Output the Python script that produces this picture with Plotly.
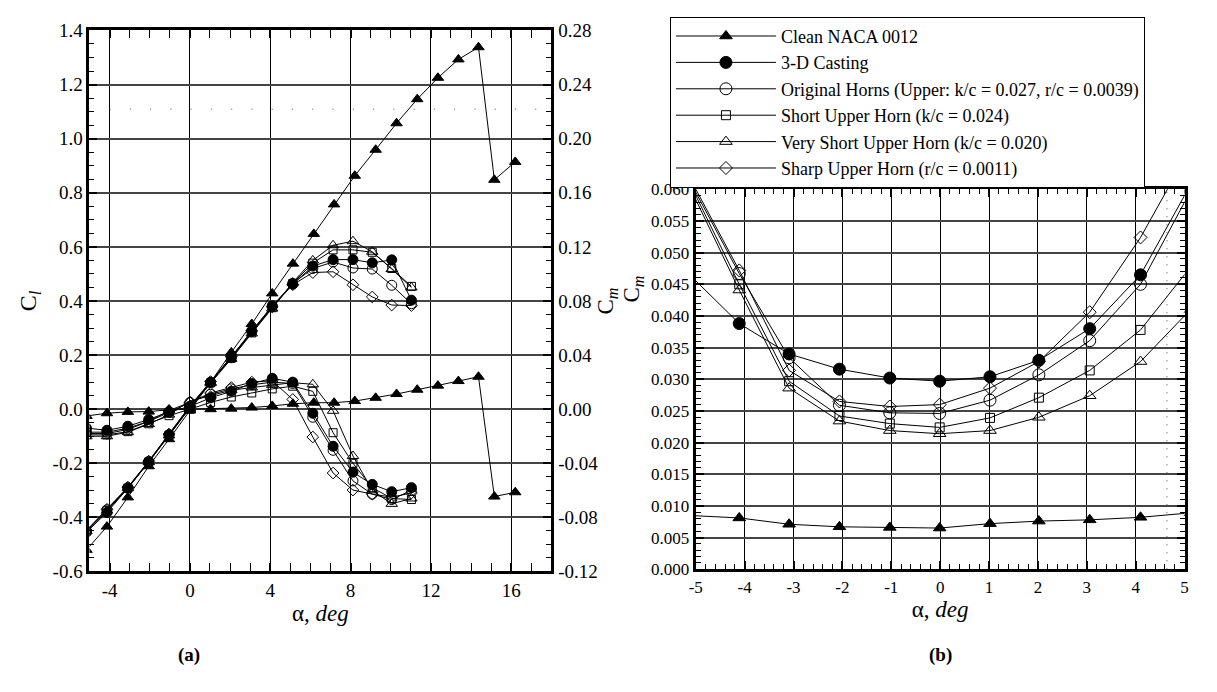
import plotly.graph_objects as go

FONT = "Liberation Serif"

# ---------------- Panel (a): Cl (left axis) and Cm (right axis) vs alpha ----------------
alpha_clean = [-5.15, -4.13, -3.09, -2.05, -1.04, 0.0, 1.03, 2.06, 3.08, 4.10, 5.13, 6.17,
               7.18, 8.21, 9.25, 10.29, 11.32, 12.35, 13.37, 14.37, 15.16, 16.20]
cl_clean = [-0.52, -0.434, -0.326, -0.211, -0.111, -0.005, 0.100, 0.210, 0.315, 0.428, 0.538,
            0.648, 0.757, 0.863, 0.959, 1.057, 1.146, 1.225, 1.293, 1.338, 0.848, 0.914]
cm_clean = [-0.005, -0.003, -0.002, -0.0018, -0.0004, 0.0, 0.0, 0.0004, 0.0012, 0.0024, 0.004,
            0.0048, 0.0048, 0.006, 0.0084, 0.0112, 0.0144, 0.0174, 0.0208, 0.024, -0.0646, -0.0614]

alpha_iced = [-5.15, -4.13, -3.09, -2.05, -1.04, 0.0, 1.03, 2.06, 3.08, 4.10, 5.12, 6.12,
              7.13, 8.12, 9.08, 10.05, 11.03]
cl_casting = [-0.455, -0.382, -0.292, -0.195, -0.095, 0.008, 0.099, 0.19, 0.287, 0.382, 0.462,
              0.529, 0.553, 0.553, 0.541, 0.552, 0.403]
cl_orig = [-0.45, -0.372, -0.29, -0.193, -0.094, 0.01, 0.10, 0.192, 0.29, 0.38, 0.465,
           0.52, 0.544, 0.522, 0.518, 0.458, 0.39]
cl_short = [-0.45, -0.375, -0.292, -0.195, -0.096, 0.005, 0.097, 0.188, 0.282, 0.375, 0.465,
            0.54, 0.589, 0.589, 0.58, 0.52, 0.454]
cl_vshort = [-0.45, -0.375, -0.292, -0.196, -0.097, 0.004, 0.096, 0.186, 0.28, 0.372, 0.468,
             0.55, 0.606, 0.621, 0.582, 0.518, 0.45]
cl_sharp = [-0.448, -0.37, -0.288, -0.192, -0.092, 0.012, 0.102, 0.195, 0.29, 0.378, 0.46,
            0.505, 0.508, 0.46, 0.415, 0.385, 0.383]

cm_casting = [-0.014, -0.0156, -0.0126, -0.0076, -0.002, 0.002, 0.0084, 0.0132, 0.019, 0.0228,
              0.020, -0.003, -0.0274, -0.0466, -0.0556, -0.061, -0.058]
cm_orig = [-0.017, -0.017, -0.014, -0.009, -0.0024, 0.005, 0.011, 0.015, 0.018, 0.020, 0.019,
           -0.006, -0.0304, -0.053, -0.0628, -0.0668, -0.060]
cm_short = [-0.019, -0.019, -0.0166, -0.0108, -0.0048, 0.0, 0.005, 0.009, 0.012, 0.015, 0.017,
            0.0132, -0.0174, -0.040, -0.058, -0.066, -0.0668]
cm_vshort = [-0.020, -0.020, -0.017, -0.011, -0.004, 0.006, 0.010, 0.014, 0.016, 0.018, 0.0196,
             0.0184, -0.0012, -0.0346, -0.060, -0.070, -0.066]
cm_sharp = [-0.018, -0.018, -0.015, -0.009, -0.001, 0.005, 0.012, 0.016, 0.020, 0.021, 0.0072,
            -0.0206, -0.0472, -0.0598, -0.0628, -0.065, -0.062]

# ---------------- Panel (b): zoomed view, -5..5 deg ----------------
alpha_b = [-5.15, -4.11, -3.09, -2.06, -1.03, -0.01, 1.02, 2.02, 3.06, 4.10, 5.12]
b_clean = [0.0085, 0.0081, 0.0071, 0.0067, 0.0066, 0.0065, 0.0072, 0.0076, 0.0078, 0.0082, 0.0089]
b_casting = [0.0467, 0.0388, 0.0340, 0.0316, 0.0302, 0.0297, 0.0304, 0.0330, 0.0380, 0.0465, 0.0607]
b_orig = [0.0617, 0.0467, 0.0334, 0.0259, 0.0247, 0.0246, 0.0267, 0.0307, 0.0361, 0.0450, 0.0597]
b_short = [0.0614, 0.0450, 0.0297, 0.0242, 0.0230, 0.0224, 0.0239, 0.0271, 0.0314, 0.0378, 0.0477]
b_vshort = [0.0608, 0.0441, 0.0286, 0.0234, 0.0219, 0.0214, 0.0219, 0.0240, 0.0274, 0.0328, 0.0410]
b_sharp = [0.0622, 0.0472, 0.0314, 0.0265, 0.0257, 0.0260, 0.0286, 0.0328, 0.0406, 0.0524, 0.0665]

series_names = [
    "Clean NACA 0012",
    "3-D Casting",
    "Original Horns (Upper: k/c = 0.027, r/c = 0.0039)",
    "Short Upper Horn (k/c = 0.024)",
    "Very Short Upper Horn (k/c = 0.020)",
    "Sharp Upper Horn (r/c = 0.0011)",
]
symbols = ["triangle-up", "circle", "circle-open", "square-open", "triangle-up-open", "diamond-open"]
sizes_a = [10, 10, 10, 8, 10, 9]
sizes_b = [11, 12, 12, 9, 11, 10]

# tick values / labels
xa_ticks = [-4, 0, 4, 8, 12, 16]
ya_ticks = [-0.6, -0.4, -0.2, 0.0, 0.2, 0.4, 0.6, 0.8, 1.0, 1.2, 1.4]
y2a_ticks = [-0.12, -0.08, -0.04, 0.0, 0.04, 0.08, 0.12, 0.16, 0.20, 0.24, 0.28]
xb_ticks = [-5, -4, -3, -2, -1, 0, 1, 2, 3, 4, 5]
yb_ticks = [0.0, 0.005, 0.010, 0.015, 0.020, 0.025, 0.030, 0.035, 0.040, 0.045, 0.050, 0.055, 0.060]


def fmt(v, d):
    s = f"{v:.{d}f}"
    if s.startswith("-") and float(s) == 0:
        s = s[1:]
    return s


fig = go.Figure()

cl_sets = [(alpha_clean, cl_clean), (alpha_iced, cl_casting), (alpha_iced, cl_orig),
           (alpha_iced, cl_short), (alpha_iced, cl_vshort), (alpha_iced, cl_sharp)]
cm_sets = [(alpha_clean, cm_clean), (alpha_iced, cm_casting), (alpha_iced, cm_orig),
           (alpha_iced, cm_short), (alpha_iced, cm_vshort), (alpha_iced, cm_sharp)]
b_sets = [b_clean, b_casting, b_orig, b_short, b_vshort, b_sharp]


def mk(i, size):
    return dict(symbol=symbols[i], size=size, color="black", line=dict(color="black", width=1))


for i, (a, v) in enumerate(cl_sets):
    fig.add_trace(go.Scatter(x=a, y=v, mode="lines+markers", name=series_names[i],
                             showlegend=False, line=dict(color="black", width=1),
                             marker=mk(i, sizes_a[i]), xaxis="x", yaxis="y"))
for i, (a, v) in enumerate(cm_sets):
    fig.add_trace(go.Scatter(x=a, y=v, mode="lines+markers", name=series_names[i],
                             showlegend=False, line=dict(color="black", width=1),
                             marker=mk(i, sizes_a[i]), xaxis="x", yaxis="y2"))
for i, v in enumerate(b_sets):
    fig.add_trace(go.Scatter(x=alpha_b, y=v, mode="lines+markers", name=series_names[i],
                             showlegend=True, line=dict(color="black", width=1),
                             marker=mk(i, sizes_b[i]), xaxis="x3", yaxis="y3"))

tickfont_a = dict(family=FONT, size=19, color="black")
tickfont_b = dict(family=FONT, size=17, color="black")
common = dict(showline=True, linecolor="black", zeroline=False, ticks="inside",
              tickcolor="black")

fig.update_layout(
    width=1217, height=692,
    margin=dict(l=0, r=0, t=0, b=0),
    paper_bgcolor="white", plot_bgcolor="white",
    font=dict(family=FONT, color="black"),
    xaxis=dict(domain=[0.0684, 0.4514], range=[-5, 18], anchor="y",
               tickvals=xa_ticks, ticktext=[fmt(v, 0) for v in xa_ticks],
               showgrid=True, gridcolor="black", gridwidth=1,
               ticklen=8, tickwidth=2, linewidth=3, mirror="allticks",
               minor=dict(dtick=1, ticks="inside", ticklen=5, tickcolor="black", tickwidth=1),
               tickfont=tickfont_a,
               title=dict(text="α, <i>deg</i>", font=dict(family=FONT, size=23), standoff=2),
               **common),
    yaxis=dict(domain=[0.1632, 0.9695], range=[-0.6, 1.4], anchor="x",
               tickvals=ya_ticks, ticktext=[fmt(v, 1) for v in ya_ticks],
               showgrid=True, gridcolor="#444", gridwidth=1.5,
               ticklen=8, tickwidth=2, linewidth=3,
               minor=dict(dtick=0.05, ticks="inside", ticklen=5, tickcolor="black", tickwidth=1),
               tickfont=tickfont_a,
               title=dict(text="C<sub><i>l</i></sub>", font=dict(family=FONT, size=24), standoff=10),
               **common),
    yaxis2=dict(overlaying="y", side="right", anchor="x", range=[-0.12, 0.28],
                tickvals=y2a_ticks, ticktext=[fmt(v, 2) for v in y2a_ticks],
                showgrid=False, ticklen=8, tickwidth=2, linewidth=3,
                minor=dict(dtick=0.01, ticks="inside", ticklen=5, tickcolor="black", tickwidth=1),
                tickfont=tickfont_a,
                title=dict(text="C<sub><i>m</i></sub>", font=dict(family=FONT, size=23), standoff=0),
                **common),
    xaxis3=dict(domain=[0.5711, 0.9764], range=[-5, 5], anchor="y3",
                tickvals=xb_ticks, ticktext=[fmt(v, 0) for v in xb_ticks],
                showgrid=True, gridcolor="black", gridwidth=1,
                ticklen=8, tickwidth=2, linewidth=3, mirror="allticks",
                minor=dict(dtick=0.2, ticks="inside", ticklen=5, tickcolor="black", tickwidth=1),
                tickfont=tickfont_b,
                title=dict(text="α, <i>deg</i>", font=dict(family=FONT, size=23), standoff=2),
                **common),
    yaxis3=dict(domain=[0.1666, 0.7327], range=[0, 0.06], anchor="x3",
                tickvals=yb_ticks, ticktext=[fmt(v, 3) for v in yb_ticks],
                showgrid=True, gridcolor="#444", gridwidth=1.5,
                ticklen=8, tickwidth=2, linewidth=3, mirror="allticks",
                minor=dict(dtick=0.001, ticks="inside", ticklen=5, tickcolor="black", tickwidth=1),
                tickfont=tickfont_b,
                **common),
    legend=dict(x=0.5497, y=1 - 7 / 692, xanchor="left", yanchor="top",
                bordercolor="black", borderwidth=1, bgcolor="white",
                font=dict(family=FONT, size=18, color="black"),
                itemwidth=100, tracegroupgap=0),
    showlegend=True,
    shapes=[
        dict(type="line", xref="x", yref="y", x0=-4, x1=18, y0=1.109, y1=1.109,
             line=dict(color="#555", width=1, dash="1px,19.27px"), layer="above"),
        dict(type="line", xref="x3", yref="y3", x0=4.64, x1=4.64, y0=0, y1=0.06,
             line=dict(color="#555", width=1, dash="1px,7px"), layer="above"),
    ],
    annotations=[
        dict(text="C<sub><i>m</i></sub>", xref="paper", yref="paper", x=632 / 1217, y=1 - 288 / 692,
             xanchor="center", yanchor="middle",
             textangle=-90, showarrow=False, font=dict(family=FONT, size=23, color="black")),
        dict(text="<b>(a)</b>", xref="paper", yref="paper", x=184 / 1217, y=1 - 665 / 692,
             xanchor="center", yanchor="middle",
             showarrow=False, font=dict(family=FONT, size=19, color="black")),
        dict(text="<b>(b)</b>", xref="paper", yref="paper", x=942 / 1217, y=1 - 665 / 692,
             xanchor="center", yanchor="middle",
             showarrow=False, font=dict(family=FONT, size=19, color="black")),
    ],
)

fig.write_html("out.html")
